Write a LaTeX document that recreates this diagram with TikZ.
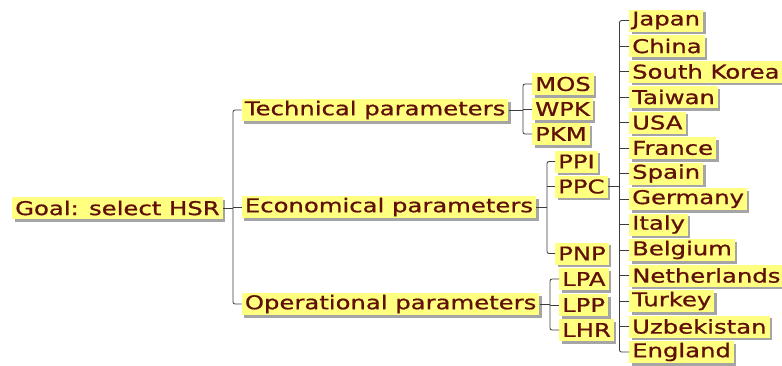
\documentclass[tikz,border=0pt]{standalone}
\usepackage{graphicx}
\usepackage{fontspec}
\setmainfont{DejaVu Sans}
\newfontfamily\boxfont[FakeBold=0.7]{DejaVu Sans}
\usetikzlibrary{shadows,calc}
\definecolor{boxyellow}{RGB}{255,255,128}
\definecolor{textred}{RGB}{96,16,8}
\definecolor{shadowgray}{RGB}{165,165,165}
\definecolor{linegray}{RGB}{60,60,60}
\newcommand\hs[1]{\scalebox{1.28}[1]{#1}}
\tikzset{
  box/.style={fill=boxyellow, text=textred, anchor=west, inner xsep=3pt, inner ysep=0pt,
    minimum height=22pt, font=\boxfont\fontsize{19}{21}\selectfont,
    general shadow={shadow xshift=2.5pt, shadow yshift=-2.5pt, fill=shadowgray}},
  conn/.style={draw=linegray, line width=0.8pt, rounded corners=2pt}
}
\begin{document}
\begin{tikzpicture}[x=1pt,y=-1pt]
\useasboundingbox (0,0) rectangle (782,365);
% root
\node[box] (goal) at (12,208) {\hs{Goal: select HSR}};
% level 1
\node[box] (tech) at (241.7,110) {\hs{Technical parameters}};
\node[box] (econ) at (241.7,207) {\hs{Economical parameters}};
\node[box] (oper) at (241.7,304) {\hs{Operational parameters}};
% technical
\node[box] (mos) at (532,84) {\hs{MOS}};
\node[box] (wpk) at (532,109) {\hs{WPK}};
\node[box] (pkm) at (532,134) {\hs{PKM}};
% economical
\node[box] (ppi) at (555,161.5) {\hs{PPI}};
\node[box] (ppc) at (555,186.5) {\hs{PPC}};
\node[box] (pnp) at (555,253.5) {\hs{PNP}};
% operational
\node[box] (lpa) at (559,279) {\hs{LPA}};
\node[box] (lpp) at (559,305) {\hs{LPP}};
\node[box] (lhr) at (559,330) {\hs{LHR}};
% countries
\foreach \n/\t [count=\i from 0] in {c0/Japan,c1/China,c2/South Korea,c3/Taiwan,c4/USA,c5/France,c6/Spain,c7/Germany,c8/Italy,c9/Belgium,c10/Netherlands,c11/Turkey,c12/Uzbekistan,c13/England}
  \node[box] (\n) at (629,20.5+25.5*\i) {\hs{\t}};
% bus coordinates
\coordinate (rootbus) at (233,0);
\coordinate (techbus) at (523,0);
\coordinate (econbus) at (547,0);
\coordinate (operbus) at (550,0);
\coordinate (ctrbus) at (619.5,0);
% connectors
\draw[conn] (goal.east) -- (goal.east -| rootbus);
\draw[conn] (tech.west) -- (tech.west -| rootbus) -- (oper.west -| rootbus) -- (oper.west);
\draw[conn] (econ.west) -- (econ.west -| rootbus);
\draw[conn] (tech.east) -- (tech.east -| techbus);
\draw[conn] (mos.west) -- (mos.west -| techbus) -- (pkm.west -| techbus) -- (pkm.west);
\draw[conn] (wpk.west) -- (wpk.west -| techbus);
\draw[conn] (econ.east) -- (econ.east -| econbus);
\draw[conn] (ppi.west) -- (ppi.west -| econbus) -- (pnp.west -| econbus) -- (pnp.west);
\draw[conn] (ppc.west) -- (ppc.west -| econbus);
\draw[conn] (oper.east) -- (oper.east -| operbus);
\draw[conn] (lpa.west) -- (lpa.west -| operbus) -- (lhr.west -| operbus) -- (lhr.west);
\draw[conn] (lpp.west) -- (lpp.west -| operbus);
\draw[conn] (ppc.east) -- (ppc.east -| ctrbus);
\draw[conn] (c0.west) -- (c0.west -| ctrbus) -- (c13.west -| ctrbus) -- (c13.west);
\foreach \i in {1,...,12}
  \draw[conn] (c\i.west) -- (c\i.west -| ctrbus);
\end{tikzpicture}
\end{document}
